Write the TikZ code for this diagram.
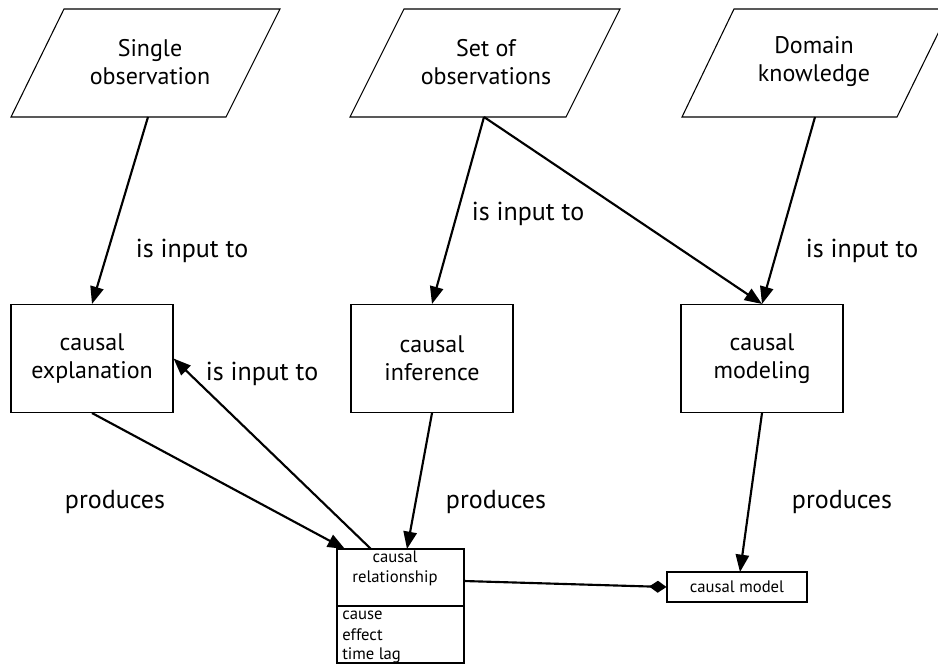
\documentclass[tikz,border=0pt]{standalone}
\usepackage{fontspec}
\setmainfont{PT Sans}
\usetikzlibrary{arrows.meta}
\begin{document}
\begin{tikzpicture}[x=0.75pt,y=-0.75pt,
  shapeline/.style={draw=black,line width=0.8pt},
  big/.style={font=\fontsize{18}{21}\selectfont,align=center},
  small/.style={font=\fontsize{12.5}{15}\selectfont},
  lbl/.style={font=\fontsize{19.5}{22}\selectfont},
  conn/.style={line width=1.6pt,-{Triangle[length=13pt,width=10pt]}},
  agg/.style={line width=1.6pt,-{Diamond[length=13pt,width=9pt]}},
  boxnode/.style={shapeline,minimum width=121.5pt,minimum height=81pt,inner sep=0pt,big}]
\useasboundingbox (0,0) rectangle (938,664);
\begin{scope}
\clip (0,0) rectangle (938,664);
% parallelograms
\draw[shapeline] (64,9) -- (280,9) -- (226,117) -- (11,117) -- cycle;
\draw[shapeline] (404,9) -- (620,9) -- (566,117) -- (350,117) -- cycle;
\draw[shapeline] (734,9) -- (950,9) -- (897,117) -- (682,117) -- cycle;
\end{scope}
\node[big] (single) at (150,62) {Single\\observation};
\node[big] (set) at (486,62) {Set of\\observations};
\node[big] (domain) at (814,62) {Domain\\knowledge};
\coordinate (singleB) at (148,117);
\coordinate (setB) at (484,117);
\coordinate (domainB) at (815,117);
% boxes
\node[boxnode] (expl) at (92,358.5) {causal\\explanation};
\node[boxnode] (inf) at (432,358.5) {causal\\inference};
\node[boxnode] (mod) at (762,358.5) {causal\\modeling};
% causal relationship class
\node[shapeline,minimum width=95.25pt,minimum height=85.5pt,inner sep=0pt] (rel) at (400.5,606) {};
\draw[shapeline] (rel.west |- 0,606) -- (rel.east |- 0,606);
\node[small,align=center] (reltitle) at (395,568) {causal\\relationship};
\node[small,anchor=west,inner sep=0pt] (a1) at (342,615) {cause};
\node[small,anchor=west,inner sep=0pt] (a2) at (342,635) {effect};
\node[small,anchor=west,inner sep=0pt] (a3) at (342,655) {time lag};
\node[shapeline,small,minimum width=105pt,minimum height=22.5pt,inner sep=0pt] (model) at (737,587) {causal model};
\coordinate (relIn) at (345,549);
\coordinate (relOut) at (371,549);
\coordinate (relTop) at (407,549);
\coordinate (relRight) at (464,581);
% connectors
\draw[conn] (singleB) -- (expl.north);
\draw[conn] (setB) -- (inf.north);
\draw[conn] (setB) -- (mod.north);
\draw[conn] (domainB) -- (mod.north);
\draw[conn] (expl.south) -- (relIn);
\draw[conn] (relOut) -- (expl.east);
\draw[conn] (inf.south) -- (relTop);
\draw[conn] (mod.south) -- (740,572);
\draw[agg] (relRight) -- (model.west);
% labels
\node[lbl] (l1) at (192,251) {is input to};
\node[lbl] (l2) at (528,214) {is input to};
\node[lbl] (l3) at (862,251) {is input to};
\node[lbl] (l4) at (262,374) {is input to};
\node[lbl] (l5) at (115,502) {produces};
\node[lbl] (l6) at (496,502) {produces};
\node[lbl] (l7) at (842,502) {produces};
\end{tikzpicture}
\end{document}
